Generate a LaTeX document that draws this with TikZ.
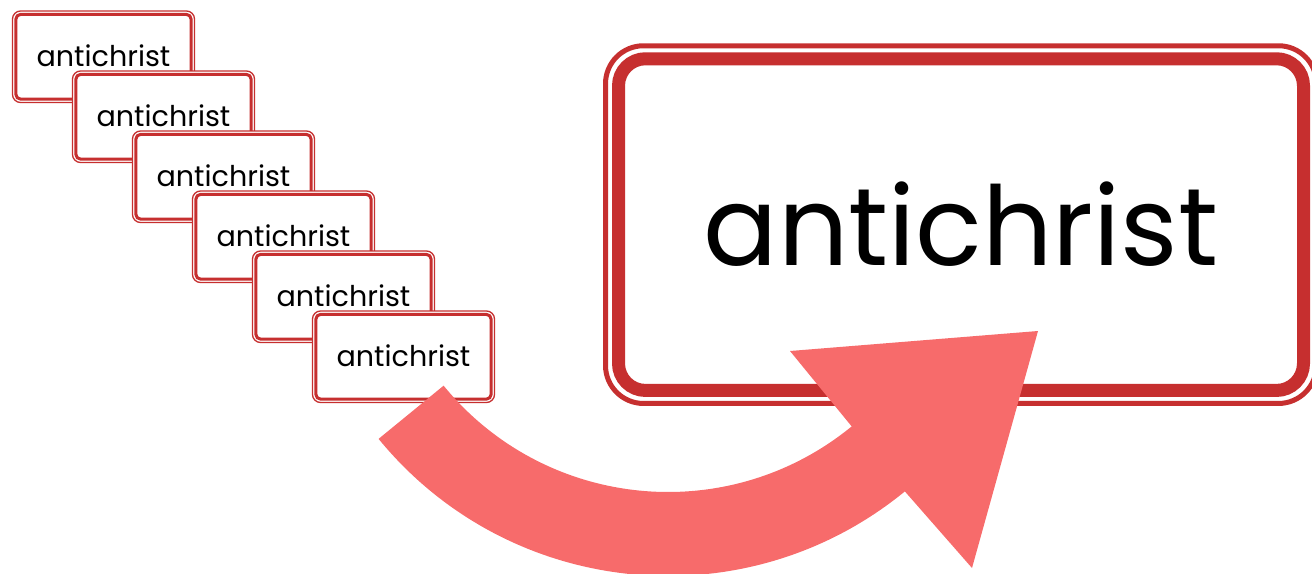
\documentclass[tikz,border=0pt]{standalone}
\usepackage{fontspec}
\setmainfont{Poppins}
\usepackage{xcolor}
\usetikzlibrary{positioning}
\definecolor{framered}{HTML}{C62F2F}
\definecolor{swooshred}{HTML}{F76B6B}

\begin{document}
\begin{tikzpicture}[
    x=1pt, y=1pt,
    tag/.style={rectangle, draw=framered, fill=white, line width=1.3pt, rounded corners=8pt,
        minimum width=182pt, minimum height=91.5pt, inner sep=0pt, outer sep=0pt,
        font=\fontsize{28.6}{32}\selectfont, text depth=.2em,
        path picture={\draw[framered, line width=3pt, rounded corners=5pt]
            ([shift={(3.3pt,-3.3pt)}]path picture bounding box.north west) rectangle
            ([shift={(-3.3pt,3.3pt)}]path picture bounding box.south east);}},
    bigtag/.style={rectangle, draw=framered, fill=white, line width=5pt, rounded corners=38pt,
        minimum width=711pt, minimum height=357.7pt, inner sep=0pt, outer sep=0pt,
        font=\fontsize{110}{120}\selectfont, text depth=.28em,
        path picture={\draw[framered, line width=13pt, rounded corners=27pt]
            ([shift={(13pt,-13pt)}]path picture bounding box.north west) rectangle
            ([shift={(-13pt,13pt)}]path picture bounding box.south east);}},
    swoosh/.style={fill=swooshred}
]
\useasboundingbox (0,0) rectangle (1312,-573);

\node[tag] (t1) at (103.5,-56.75) {antichrist};
\node[tag, on grid, below right=60pt and 60pt of t1] (t2) {antichrist};
\node[tag, on grid, below right=60pt and 60pt of t2] (t3) {antichrist};
\node[tag, on grid, below right=60pt and 60pt of t3] (t4) {antichrist};
\node[tag, on grid, below right=60pt and 60pt of t4] (t5) {antichrist};
\node[tag, on grid, below right=60pt and 60pt of t5] (t6) {antichrist};

\node[bigtag] (big) at (961,-224.6) {antichrist};

% curved arrow from the stack to the big box
\coordinate (pivot) at (668,-202);
\fill[swoosh] ([shift={(219.3:374pt)}]pivot) arc[start angle=219.3, end angle=309.3, radius=374pt]
    -- (972,-568) -- (1038,-331) -- (790,-351) -- ([shift={(309.3:290pt)}]pivot)
    arc[start angle=309.3, end angle=219.3, radius=290pt] -- cycle;
\end{tikzpicture}
\end{document}
